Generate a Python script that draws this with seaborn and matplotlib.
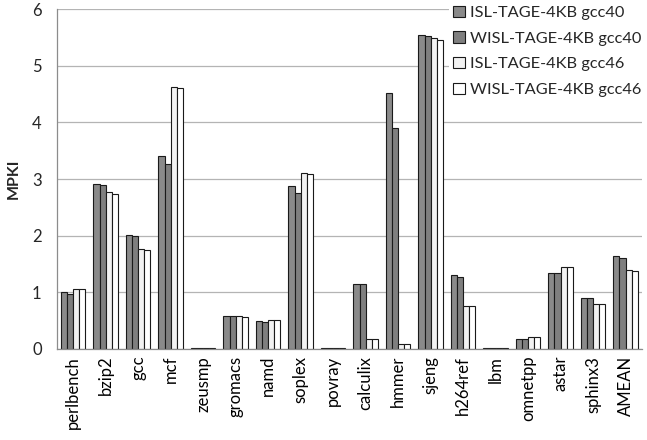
import matplotlib.pyplot as plt
import numpy as np
import pandas as pd
import seaborn as sns

benchmarks = [
    'perlbench', 'bzip2', 'gcc', 'mcf', 'zeusmp', 'gromacs', 'namd', 'soplex',
    'povray', 'calculix', 'hmmer', 'sjeng', 'h264ref', 'lbm', 'omnetpp',
    'astar', 'sphinx3', 'AMEAN',
]
series = [
    'ISL-TAGE-4KB gcc40',
    'WISL-TAGE-4KB gcc40',
    'ISL-TAGE-4KB gcc46',
    'WISL-TAGE-4KB gcc46',
]
isl_gcc40 = [1.00, 2.92, 2.02, 3.40, 0.02, 0.59, 0.49, 2.87, 0.02, 1.15,
             4.52, 5.55, 1.30, 0.02, 0.18, 1.345, 0.90, 1.65]
wisl_gcc40 = [0.97, 2.90, 2.00, 3.27, 0.02, 0.59, 0.47, 2.76, 0.02, 1.15,
              3.91, 5.52, 1.27, 0.02, 0.18, 1.345, 0.90, 1.60]
isl_gcc46 = [1.06, 2.77, 1.77, 4.62, 0.02, 0.59, 0.51, 3.11, 0.02, 0.18,
             0.09, 5.49, 0.755, 0.02, 0.21, 1.44, 0.80, 1.40]
wisl_gcc46 = [1.06, 2.73, 1.74, 4.60, 0.02, 0.56, 0.51, 3.09, 0.02, 0.18,
              0.09, 5.45, 0.755, 0.02, 0.21, 1.44, 0.80, 1.37]
colors = ['#8a8a8a', '#7f7f7f', '#f2f2f2', '#ffffff']

df = pd.concat(
    [
        pd.DataFrame({'benchmark': benchmarks, 'config': name, 'mpki': vals})
        for name, vals in zip(series, [isl_gcc40, wisl_gcc40, isl_gcc46, wisl_gcc46])
    ],
    ignore_index=True,
)

sns.set_style('white')
plt.rcParams['font.family'] = ['Lato', 'DejaVu Sans']

fig, ax = plt.subplots(figsize=(6.47, 4.40), dpi=100)
fig.subplots_adjust(left=0.088, right=0.992, top=0.979, bottom=0.207)

sns.barplot(
    data=df,
    x='benchmark',
    y='mpki',
    hue='config',
    hue_order=series,
    palette=colors,
    width=0.75,
    edgecolor='#1a1a1a',
    linewidth=0.8,
    errorbar=None,
    ax=ax,
)

ax.set_ylim(0, 6)
ax.set_yticks(range(7))
ax.yaxis.grid(True, color='#b4b4b4', linewidth=0.9)
ax.set_axisbelow(True)

for side in ['top', 'right']:
    ax.spines[side].set_visible(False)
for side in ['left', 'bottom']:
    ax.spines[side].set_color('#8c8c8c')
    ax.spines[side].set_linewidth(0.9)

ax.set_xticks(np.arange(-0.5, len(benchmarks), 1), minor=True)
ax.tick_params(axis='x', which='major', length=0, pad=5, labelrotation=90,
               labelsize=12, colors='black')
ax.tick_params(axis='x', which='minor', length=5, width=0.9, color='#8c8c8c')
ax.tick_params(axis='y', length=5, width=0.9, color='#8c8c8c', labelsize=12,
               pad=6)

ax.set_xlabel('')
ax.set_ylabel('MPKI', fontsize=11.5, fontweight='bold', labelpad=8)

handles, labels = ax.get_legend_handles_labels()
ax.legend(
    handles=handles,
    labels=labels,
    loc='upper right',
    bbox_to_anchor=(1.0, 1.0),
    bbox_transform=fig.transFigure,
    fontsize=11.8,
    handlelength=0.7,
    handleheight=0.7,
    handletextpad=0.3,
    labelspacing=0.68,
    frameon=True,
    facecolor='white',
    edgecolor='none',
    framealpha=1,
    fancybox=False,
    borderaxespad=0.1,
    borderpad=0.25,
)

fig.savefig('out.png', dpi=100)
